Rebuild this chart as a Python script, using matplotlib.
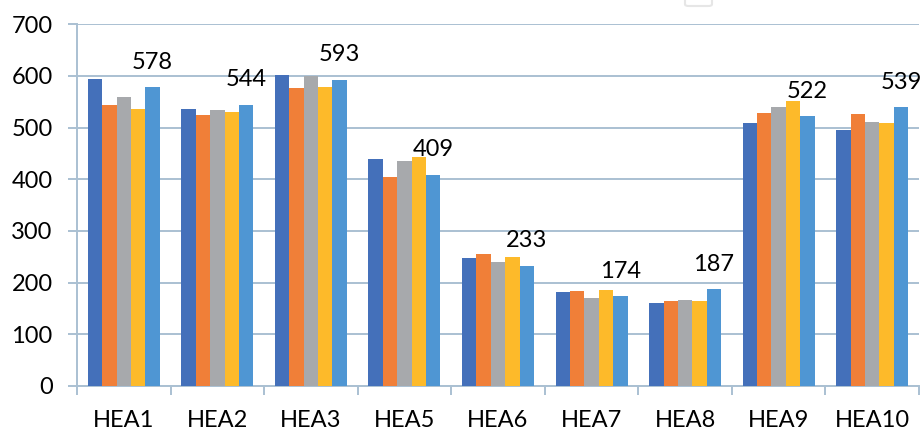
import numpy as np
import matplotlib
matplotlib.use("Agg")
import matplotlib.pyplot as plt
from matplotlib.patches import FancyBboxPatch

categories = ["HEA1", "HEA2", "HEA3", "HEA5", "HEA6", "HEA7", "HEA8", "HEA9", "HEA10"]
s1 = [594, 536, 601, 439, 248, 181, 160, 509, 495]
s2 = [543, 524, 576, 405, 255, 183, 165, 528, 527]
s3 = [560, 535, 599, 436, 240, 170, 166, 540, 510]
s4 = [537, 530, 578, 444, 249, 185, 165, 551, 509]
s5 = [578, 544, 593, 409, 233, 174, 187, 522, 539]
series = [s1, s2, s3, s4, s5]
colors = ["#4470BA", "#F07F38", "#A7A9AC", "#FDBA2A", "#4F96D3"]

plt.rcParams["font.family"] = ["Lato", "DejaVu Sans"]
grid_c = "#aac0d2"
fs = 17

fig = plt.figure(figsize=(9.22, 4.30), dpi=100)
ax = fig.add_axes([77 / 922, 1 - 386 / 430, (919 - 77) / 922, (386 - 24.3) / 430])

x = np.arange(len(categories))
w = 1 / 6.5
for j, (vals, c) in enumerate(zip(series, colors)):
    ax.bar(x + (j - 2) * w, vals, width=w, color=c, zorder=3)

# value labels above last series
for xi, v in zip(x, s5):
    ax.annotate(str(v), (xi + 2 * w, v), xytext=(0, 18), textcoords="offset points",
                ha="center", va="center", fontsize=fs, color="black")

ax.set_xlim(-0.5, len(categories) - 0.5)
ax.set_ylim(0, 700)
ax.set_yticks(range(0, 701, 100))
ax.set_xticks(x)
ax.set_xticklabels(categories)
ax.set_xticks(np.arange(-0.5, len(categories), 1), minor=True)

ax.yaxis.grid(True, color=grid_c, linewidth=1.4, zorder=0)
ax.tick_params(axis="y", length=6.5, width=1.4, color=grid_c, pad=11, labelsize=fs, labelcolor="black")
ax.tick_params(axis="x", which="major", length=0, pad=17.5, labelsize=fs, labelcolor="black")
ax.tick_params(axis="x", which="minor", length=6.5, width=1.4, color=grid_c)

for side in ["top", "right"]:
    ax.spines[side].set_visible(False)
for side in ["left", "bottom"]:
    ax.spines[side].set_color(grid_c)
    ax.spines[side].set_linewidth(1.4)

# small box clipped at top edge
fig.patches.append(FancyBboxPatch((685 / 922, 1 - 6 / 430), 27 / 922, 14 / 430,
                                  boxstyle="round,pad=0,rounding_size=0.004",
                                  transform=fig.transFigure, facecolor="white",
                                  edgecolor="#e6e6e6", linewidth=1.5))

fig.savefig("out.png", dpi=100)
